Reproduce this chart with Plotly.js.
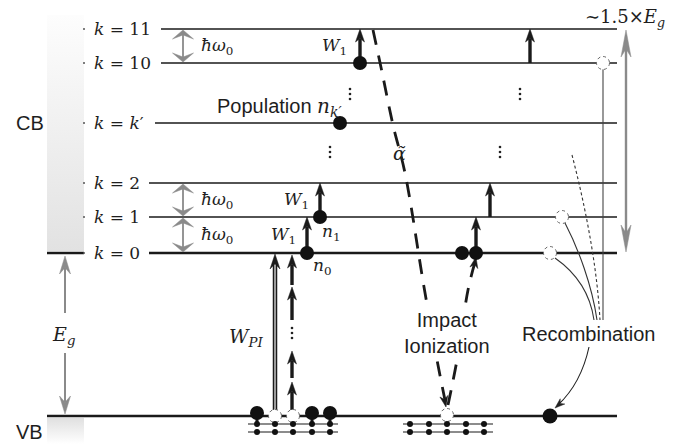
<!DOCTYPE html>
<html><head><meta charset="utf-8">
<script src="https://cdn.plot.ly/plotly-3.0.1.min.js"></script>
<style>html,body{margin:0;padding:0;background:#fff}</style>
</head><body><div id="chart" style="width:684px;height:444px"></div>
<script>
const levelLabels = ['<i>k</i> = 11', '<i>k</i> = 10', '<i>k</i> = <i>k</i>′', '<i>k</i> = 2', '<i>k</i> = 1', '<i>k</i> = 0'];
const levelY = [29, 63, 123, 183, 217, 253];
const levelStartX = [161, 161, 155, 149, 149, 149];
const levelEndX = 617;
const vbY = 416;
const phononPairs = [[29, 63], [183, 217], [217, 253]];
const electronX = [360, 340, 320, 307, 462, 476];
const electronY = [63, 123, 217, 253, 253, 253];
const cbHoleX = [603, 562, 550];
const cbHoleY = [63, 217, 253];
const heatX = [360, 307, 320, 476, 490, 530];
const heatFrom = [63, 253, 217, 253, 217, 63];
const heatTo = [29, 217, 183, 217, 183, 29];
const mpiX = 292;
const mpiFrom = [410, 378, 320, 285];
const mpiTo = [382, 351, 287, 255];
const vbAX = [257, 275, 293, 312, 330];
const vbAFilled = [1, 0, 0, 1, 1];
const vbBX = [410, 429, 447, 466, 484];
const vbBHole = [0, 0, 1, 0, 0];
const vdotsX = [350, 520, 330, 500, 292];
const vdotsY = [94, 94, 152, 152, 333];
const alphaX = [373, 382, 393, 405, 424, 437, 446];
const alphaY = [30, 72, 125, 173, 287, 360, 405];
const genX = [448, 457, 468, 475];
const genY = [405, 360, 290, 262];

// ---- helpers ----
const shapes = [];
const K = '#1a1a1a', G = '#8a8a8a';
function line(x0, y0, x1, y1, color, width, dash) {
  shapes.push({type: 'line', xref: 'x', yref: 'y', layer: 'below', x0, y0, x1, y1,
    line: {color, width, dash: dash || 'solid'}});
}
function head(tx, ty, dx, dy, L, W, notch, color) {
  const n = Math.hypot(dx, dy); dx /= n; dy /= n;
  const px = -dy, py = dx;
  const b1x = tx - L * dx + W / 2 * px, b1y = ty - L * dy + W / 2 * py;
  const b2x = tx - L * dx - W / 2 * px, b2y = ty - L * dy - W / 2 * py;
  const nx = tx - L * notch * dx, ny = ty - L * notch * dy;
  shapes.push({type: 'path', xref: 'x', yref: 'y', layer: 'below',
    path: `M${tx},${ty} L${b1x},${b1y} L${nx},${ny} L${b2x},${b2y} Z`,
    fillcolor: color, line: {color, width: 0.5}});
}
function arrow(x0, y0, x1, y1, color, width, L, W, notch) {
  const d = Math.hypot(x1 - x0, y1 - y0);
  const ux = (x1 - x0) / d, uy = (y1 - y0) / d;
  line(x0, y0, x1 - ux * L * notch, y1 - uy * L * notch, color, width);
  head(x1, y1, ux, uy, L, W, notch, color);
}
function dbl(x0, y0, x1, y1, color, width, L, W, notch) {
  const d = Math.hypot(x1 - x0, y1 - y0);
  const ux = (x1 - x0) / d, uy = (y1 - y0) / d;
  line(x0 + ux * L * notch, y0 + uy * L * notch, x1 - ux * L * notch, y1 - uy * L * notch, color, width);
  head(x1, y1, ux, uy, L, W, notch, color);
  head(x0, y0, -ux, -uy, L, W, notch, color);
}
function circ(x, y, r, fill, lc, lw, dash) {
  shapes.push({type: 'circle', xref: 'x', yref: 'y', layer: 'below',
    x0: x - r, x1: x + r, y0: y - r, y1: y + r, fillcolor: fill,
    line: {color: lc, width: lw, dash: dash || 'solid'}});
}
function path(p, color, width, dash) {
  shapes.push({type: 'path', xref: 'x', yref: 'y', layer: 'below', path: p,
    line: {color, width, dash: dash || 'solid'}});
}

// ---- level lines ----
levelY.forEach((y, i) => line(levelStartX[i], y, levelEndX, y, K, i === 5 ? 2.6 : 1.3));
line(47, 253, 84, 253, K, 2.6);
line(47, vbY, levelEndX, vbY, K, 2.6);

// phonon ladder double arrows
phononPairs.forEach(p => dbl(183, p[0] + 1, 183, p[1] - 1, G, 1.8, 9, 21, 0.55));
// Eg arrow with gap
arrow(65, 313, 65, 256, G, 2, 18, 11, 0.65);
arrow(65, 353, 65, 414, G, 2, 18, 11, 0.65);
// 1.5 Eg arrow
dbl(626, 30, 626, 252, G, 2.4, 27, 10, 0.7);

// W_PI hollow arrow
line(275, vbY - 4, 275, 262, K, 4.5);
line(275, vbY - 4, 275, 262, '#bbbbbb', 1.6);
head(275, 254, 0, -1, 15, 10, 0.65, K);

// heating arrows
heatX.forEach((x, i) => arrow(x, heatFrom[i], x, heatTo[i], K, 3.4, 13, 9, 0.72));
// multiphoton arrows
mpiFrom.forEach((y, i) => arrow(mpiX, y, mpiX, mpiTo[i], K, 3.4, 13, 9, 0.72));

// recombination curves
line(603, 69, 603, 320, '#444', 1.1);
path('M 555,258 C 575,272 590,292 594,320', '#333', 1.1);
path('M 565,223 C 578,248 592,285 597,320', '#333', 1.1);
path('M 572,155 C 585,205 597,265 600,320', '#333', 1.1, '3px,2.5px');
path('M 589,347 C 584,370 574,390 558,405', '#222', 1.1);
head(555, 408, -0.75, 0.66, 10, 7, 0.7, '#222');

// impact ionization arrowheads
head(446, 407, 0.2, 1, 11, 8, 0.7, K);
head(476, 257, 0.2, -1, 11, 8, 0.7, K);

// CB holes
cbHoleX.forEach((x, i) => circ(x, cbHoleY[i], 6.5, 'white', '#666', 1, 'dot'));

// VB sub-lines
[424, 432].forEach(y => { line(248, y, 338, y, K, 1.2); line(403, y, 493, y, K, 1.2); });
vbAX.forEach((x, i) => {
  if (vbAFilled[i]) { line(x, 413, x, 424, K, 3); }
  else circ(x, vbY, 6.5, 'white', '#666', 1, 'dot');
});
vbBX.forEach((x, i) => { if (vbBHole[i]) circ(x, vbY - 1, 6.5, 'white', '#666', 1, 'dot'); });

// ---- traces ----
const traces = [];
// band gradients
traces.push({x: [47, 84, 84, 47, 47], y: [15, 15, 251, 251, 15], mode: 'lines', fill: 'toself',
  line: {width: 0}, hoverinfo: 'skip',
  fillgradient: {type: 'vertical', start: 15, stop: 251, colorscale: [[0, '#fdfdfd'], [1, '#e2e2e2']]}});
traces.push({x: [47, 84, 84, 47, 47], y: [418, 418, 444, 444, 418], mode: 'lines', fill: 'toself',
  line: {width: 0}, hoverinfo: 'skip',
  fillgradient: {type: 'vertical', start: 418, stop: 444, colorscale: [[0, '#e0e0e0'], [1, '#ffffff']]}});
// dashed impact-ionization paths
traces.push({x: alphaX, y: alphaY, mode: 'lines', line: {color: K, width: 2.8, dash: '15px,11px', shape: 'spline'}, hoverinfo: 'skip'});
traces.push({x: genX, y: genY, mode: 'lines', line: {color: K, width: 2.8, dash: '15px,11px', shape: 'spline'}, hoverinfo: 'skip'});
// electrons
traces.push({x: electronX, y: electronY, mode: 'markers', marker: {color: '#111', size: 14}, hoverinfo: 'skip'});
traces.push({x: [550], y: [vbY], mode: 'markers', marker: {color: '#111', size: 15}, hoverinfo: 'skip'});
traces.push({x: vbAX.filter((x, i) => vbAFilled[i]), y: vbAX.filter((x, i) => vbAFilled[i]).map(() => 413),
  mode: 'markers', marker: {color: '#111', size: 14}, hoverinfo: 'skip'});
// small dots on VB sub-lines
const subX = vbAX.concat(vbBX);
traces.push({x: subX.concat(subX), y: subX.map(() => 424).concat(subX.map(() => 432)),
  mode: 'markers', marker: {color: '#111', size: 6}, hoverinfo: 'skip'});
// vertical ellipses
const vx = [], vy = [];
vdotsX.forEach((x, i) => { [-5, 0, 5].forEach(o => { vx.push(x); vy.push(vdotsY[i] + o); }); });
traces.push({x: vx, y: vy, mode: 'markers', marker: {color: '#222', size: 2.6}, hoverinfo: 'skip'});
// tiny ticks left of labels
traces.push({x: levelY.map(() => 84), y: levelY, mode: 'markers', marker: {color: '#555', size: 2}, hoverinfo: 'skip'});

// ---- annotations ----
const SERIF = 'DejaVu Serif', SANS = 'Liberation Sans, Arial, sans-serif';
const ann = [];
function txt(x, y, text, opt) {
  ann.push(Object.assign({x, y, xref: 'x', yref: 'y', text, showarrow: false,
    xanchor: 'center', yanchor: 'middle', font: {family: SERIF, size: 17, color: '#1e1e1e'}}, opt || {}));
}
levelLabels.forEach((t, i) => txt(92, levelY[i], t, {xanchor: 'left'}));
const hw = '<i>ħω</i><sub>0</sub>';
txt(199, 46, hw, {xanchor: 'left'});
txt(199, 200, hw, {xanchor: 'left'});
txt(199, 235, hw, {xanchor: 'left'});
const W1 = '<i>W</i><sub>1</sub>';
txt(334, 46, W1); txt(296, 200, W1); txt(283, 235, W1);
txt(322, 266, '<i>n</i><sub>0</sub>');
txt(331, 232, '<i>n</i><sub>1</sub>');
txt(279, 107, 'Population <span style="font-family:DejaVu Serif"><i>n</i><sub><i>k′</i></sub></span>',
  {font: {family: SANS, size: 20, color: '#1e1e1e'}});
txt(30, 123, 'CB', {font: {family: SANS, size: 20, color: '#1e1e1e'}});
txt(29, 432, 'VB', {font: {family: SANS, size: 20, color: '#1e1e1e'}});
txt(63, 335, '<i>E</i><sub><i>g</i></sub>', {font: {family: SERIF, size: 19, color: '#1e1e1e'}});
txt(246, 337, '<i>W</i><sub><i>PI</i></sub>', {font: {family: SERIF, size: 19, color: '#1e1e1e'}});
txt(399, 153, '<i>α̃</i>', {font: {family: SERIF, size: 19, color: '#1e1e1e'}});
txt(625, 18, '∼1.5×<i>E</i><sub><i>g</i></sub>', {font: {family: SERIF, size: 18, color: '#1e1e1e'}});
txt(447, 333, 'Impact<br>Ionization', {font: {family: SANS, size: 20, color: '#1e1e1e'}, bgcolor: 'white'});
txt(588, 334, 'Recombination', {font: {family: SANS, size: 20, color: '#1e1e1e'}, bgcolor: 'white'});

const layout = {
  width: 684, height: 444, margin: {l: 0, r: 0, t: 0, b: 0},
  paper_bgcolor: 'white', plot_bgcolor: 'white', showlegend: false,
  xaxis: {range: [0, 684], visible: false, fixedrange: true},
  yaxis: {range: [444, 0], visible: false, fixedrange: true},
  shapes, annotations: ann
};
Plotly.newPlot('chart', traces, layout, {staticPlot: true, displayModeBar: false});
</script></body></html>
